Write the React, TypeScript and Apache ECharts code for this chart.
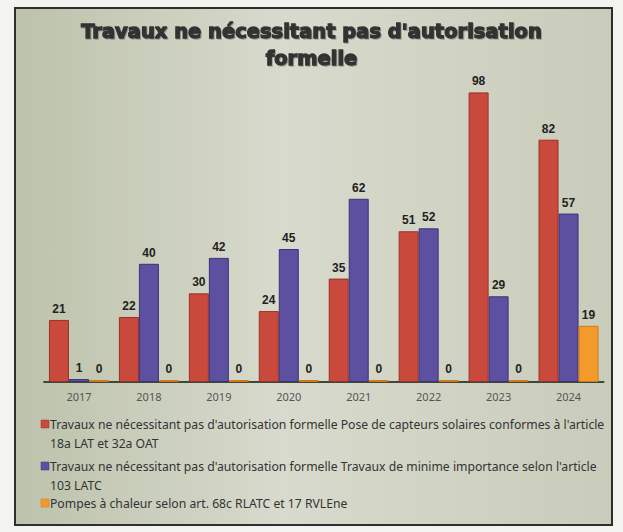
import React, { useEffect, useRef } from "react";
import * as echarts from "echarts";

const years = ["2017", "2018", "2019", "2020", "2021", "2022", "2023", "2024"];
const solaires = [21, 22, 30, 24, 35, 51, 98, 82];
const minime = [1, 40, 42, 45, 62, 52, 29, 57];
const pompes = [0, 0, 0, 0, 0, 0, 0, 19];
const seriesNames = [
  "Travaux ne nécessitant pas d'autorisation formelle Pose de capteurs solaires conformes à l'article 18a LAT et 32a OAT",
  "Travaux ne nécessitant pas d'autorisation formelle Travaux de minime importance selon l'article 103 LATC",
  "Pompes à chaleur selon art. 68c RLATC et 17 RVLEne",
];
const legendLines = [
  ["Travaux ne nécessitant pas d'autorisation formelle Pose de capteurs solaires conformes à l'article", "18a LAT et 32a OAT"],
  ["Travaux ne nécessitant pas d'autorisation formelle Travaux de minime importance selon l'article", "103 LATC"],
  ["Pompes à chaleur selon art. 68c RLATC et 17 RVLEne"],
];
const titleText = "Travaux ne nécessitant pas d'autorisation\nformelle";

const colors = ["#c94a3c", "#5e50a0", "#f39a2c"];
const borders = ["#9a3027", "#3d3276", "#d27818"];

export default function App() {
  const ref = useRef<HTMLDivElement>(null);
  useEffect(() => {
    if (!ref.current) return;
    const chart = echarts.init(ref.current, undefined, { renderer: "svg" });
    const datasets = [solaires, minime, pompes];
    const legendGraphics: any[] = [];
    const itemY = [424, 466, 503];
    legendLines.forEach((lines, i) => {
      legendGraphics.push({
        type: "rect",
        shape: { x: 41, y: itemY[i] - 4, width: 8, height: 8 },
        style: { fill: colors[i], stroke: borders[i], lineWidth: 0.5 },
        z: 5,
      });
      lines.forEach((ln, j) => {
        legendGraphics.push({
          type: "text",
          x: 50,
          y: itemY[i] + j * 19,
          style: {
            text: ln,
            fill: "#333",
            font: "12.2px 'Noto Sans'",
            textVerticalAlign: "middle",
          },
          z: 5,
        });
      });
    });
    chart.setOption({
      animation: false,
      backgroundColor: "#f3f3ef",
      title: {
        text: titleText,
        left: "center",
        top: 13,
        textStyle: {
          fontFamily: "DejaVu Sans",
          fontWeight: "bold",
          fontSize: 19.5,
          lineHeight: 27,
          color: "#333",
          textBorderColor: "#333",
          textBorderWidth: 1.3,
          textShadowColor: "rgba(0,0,0,0.25)",
          textShadowBlur: 1,
          textShadowOffsetX: 1,
          textShadowOffsetY: 1,
        },
      },
      graphic: [
        {
          type: "rect",
          z: -10,
          shape: { x: 15, y: 8, width: 597, height: 517 },
          style: {
            fill: new echarts.graphic.LinearGradient(0, 0, 1, 0, [
              { offset: 0, color: "#bcc2ab" },
              { offset: 0.45, color: "#d8dacd" },
              { offset: 1, color: "#c9ccba" },
            ]),
            stroke: "#2e2e2e",
            lineWidth: 2,
          },
        },
        ...legendGraphics,
      ],
      grid: { left: 44, right: 19.5, top: 86.5, bottom: 150 },
      xAxis: {
        type: "category",
        data: years,
        axisLine: { lineStyle: { color: "#3d4838", width: 2 } },
        axisTick: { show: false },
        axisLabel: { color: "#555", fontSize: 11, fontFamily: "Noto Sans", margin: 9 },
      },
      yAxis: {
        type: "value",
        min: 0,
        max: 100,
        show: false,
        splitLine: { show: false },
      },
      series: datasets.map((d, i) => ({
        type: "bar",
        name: seriesNames[i],
        data: d,
        barWidth: 20,
        barGap: "0%",
        barMinHeight: i === 2 ? 2 : 0,
        itemStyle: { color: colors[i], borderColor: borders[i], borderWidth: 1 },
        label: {
          show: true,
          position: "top",
          distance: 5,
          color: "#222",
          fontWeight: "bold",
          fontSize: 12,
          fontFamily: "Liberation Sans",
        },
      })),
    });
    return () => chart.dispose();
  }, []);
  return (
    <div
      ref={ref}
      style={{ position: "fixed", left: 0, top: 0, width: 623, height: 532 }}
    />
  );
}
